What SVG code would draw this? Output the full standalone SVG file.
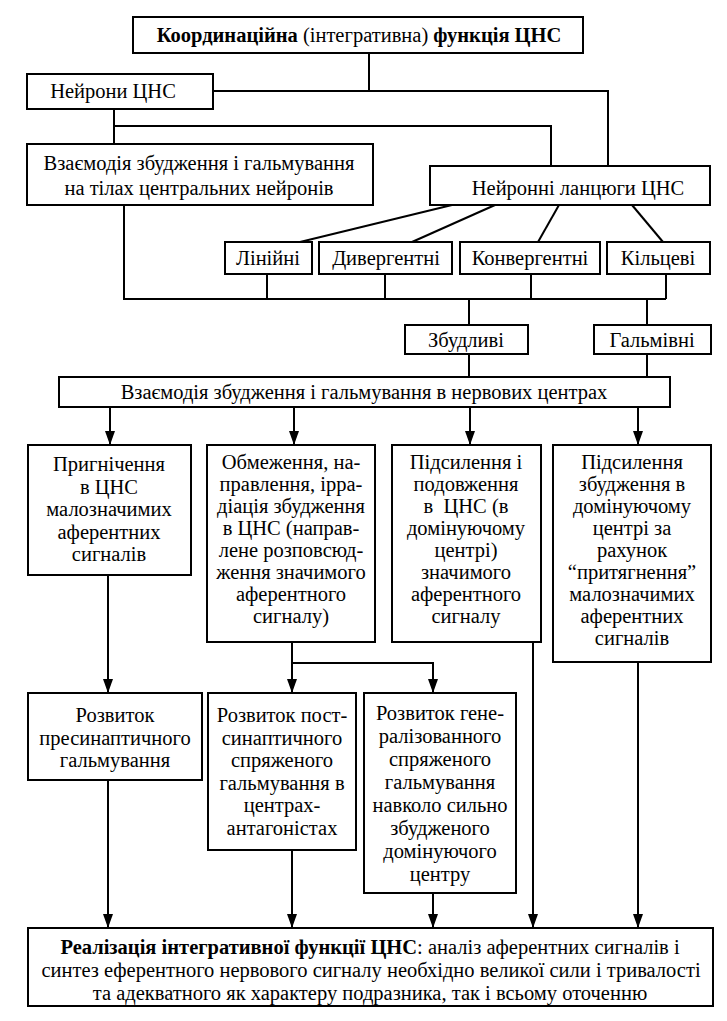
<svg xmlns="http://www.w3.org/2000/svg" width="727" height="1021" viewBox="0 0 727 1021">
<style>
.box{fill:#fff;stroke:#000;stroke-width:2}
.ln{fill:none;stroke:#000;stroke-width:2}
.ar{fill:none;stroke:#000;stroke-width:2;marker-end:url(#arr)}
text{font-family:"Liberation Serif","Times New Roman",serif;font-size:20.5px;fill:#000;text-anchor:middle}
.b{font-weight:bold}
</style>
<defs>
<marker id="arr" viewBox="0 0 14 10" refX="14" refY="5" markerWidth="14" markerHeight="10" markerUnits="userSpaceOnUse" orient="auto">
<path d="M0,0 L14,5 L0,10 z" fill="#000"/>
</marker>
</defs>
<rect width="727" height="1021" fill="#fff"/>

<g id="connectors">
<polyline class="ln" points="369,53 369,91"/>
<polyline class="ln" points="213,91 608,91 608,166"/>
<polyline class="ln" points="114,109 114,144"/>
<polyline class="ln" points="114,126 551,126 551,166"/>
<polyline class="ln" points="124,205 124,299 666,299"/>
<line class="ln" x1="452" y1="205" x2="300" y2="242"/>
<line class="ln" x1="495" y1="205" x2="412" y2="242"/>
<line class="ln" x1="559" y1="205" x2="538" y2="242"/>
<line class="ln" x1="632" y1="205" x2="663" y2="242"/>
<line class="ln" x1="267" y1="274" x2="267" y2="299"/>
<line class="ln" x1="385" y1="274" x2="385" y2="299"/>
<line class="ln" x1="531" y1="274" x2="531" y2="299"/>
<line class="ln" x1="666" y1="274" x2="666" y2="299"/>
<line class="ln" x1="469" y1="299" x2="469" y2="325"/>
<line class="ln" x1="647" y1="299" x2="647" y2="325"/>
<line class="ln" x1="469" y1="354" x2="469" y2="377"/>
<line class="ln" x1="647" y1="354" x2="647" y2="377"/>
<polyline class="ln" points="292,642 292,663 433,663"/>
<line class="ar" x1="110" y1="407" x2="110" y2="445"/>
<line class="ar" x1="294" y1="407" x2="294" y2="445"/>
<line class="ar" x1="470" y1="407" x2="470" y2="445"/>
<line class="ar" x1="638" y1="407" x2="638" y2="445"/>
<line class="ar" x1="108" y1="575" x2="108" y2="693"/>
<line class="ar" x1="292" y1="662" x2="292" y2="693"/>
<line class="ar" x1="433" y1="662" x2="433" y2="693"/>
<line class="ar" x1="108" y1="780" x2="108" y2="928"/>
<line class="ar" x1="292" y1="850" x2="292" y2="928"/>
<line class="ar" x1="433" y1="893" x2="433" y2="928"/>
<line class="ar" x1="533" y1="642" x2="533" y2="928"/>
<line class="ar" x1="638" y1="662" x2="638" y2="928"/>
</g>

<g id="title">
<rect class="box" x="133" y="17" width="450" height="36"/>
<text x="359" y="42"><tspan class="b">Координаційна</tspan> (інтегративна) <tspan class="b">функція ЦНС</tspan></text>
</g>

<g id="neurons">
<rect class="box" x="27" y="74" width="186" height="35"/>
<text x="113" y="98">Нейрони ЦНС</text>
</g>

<g id="interaction-bodies">
<rect class="box" x="27" y="144" width="346" height="61"/>
<text x="199" y="170">Взаємодія збудження і гальмування</text>
<text x="199" y="195">на тілах центральних нейронів</text>
</g>

<g id="chains">
<rect class="box" x="430" y="166" width="280" height="39"/>
<text x="578" y="195">Нейронні ланцюги ЦНС</text>
</g>

<g id="linear">
<rect class="box" x="225" y="242" width="87" height="32"/>
<text x="268" y="265">Лінійні</text>
</g>
<g id="divergent">
<rect class="box" x="319" y="242" width="133" height="32"/>
<text x="386" y="265">Дивергентні</text>
</g>
<g id="convergent">
<rect class="box" x="460" y="242" width="140" height="32"/>
<text x="530" y="265">Конвергентні</text>
</g>
<g id="circular">
<rect class="box" x="607" y="242" width="103" height="32"/>
<text x="658" y="265">Кільцеві</text>
</g>

<g id="excitatory">
<rect class="box" x="405" y="325" width="123" height="29"/>
<text x="466" y="347">Збудливі</text>
</g>
<g id="inhibitory">
<rect class="box" x="594" y="325" width="117" height="29"/>
<text x="652" y="347">Гальмівні</text>
</g>

<g id="interaction-centers">
<rect class="box" x="59" y="377" width="611" height="30"/>
<text x="364" y="399">Взаємодія збудження і гальмування в нервових центрах</text>
</g>

<g id="suppression">
<rect class="box" x="28" y="445" width="163" height="130"/>
<text x="109" y="471">Пригнічення</text>
<text x="109" y="493.5">в ЦНС</text>
<text x="109" y="516">малозначимих</text>
<text x="109" y="538.5">аферентних</text>
<text x="109" y="561">сигналів</text>
</g>

<g id="limitation">
<rect class="box" x="207" y="445" width="168" height="197"/>
<text x="291" y="469">Обмеження, на-</text>
<text x="291" y="491">правлення, ірра-</text>
<text x="291" y="513">діація збудження</text>
<text x="291" y="535">в ЦНС (направ-</text>
<text x="291" y="557">лене розповсюд-</text>
<text x="291" y="579">ження значимого</text>
<text x="291" y="601">аферентного</text>
<text x="291" y="623">сигналу)</text>
</g>

<g id="amplification">
<rect class="box" x="392" y="445" width="149" height="197"/>
<text x="466" y="469">Підсилення і</text>
<text x="466" y="491">подовження</text>
<text x="466" y="513">в&#160; ЦНС (в</text>
<text x="466" y="535">домінуючому</text>
<text x="466" y="557">центрі)</text>
<text x="466" y="579">значимого</text>
<text x="466" y="601">аферентного</text>
<text x="466" y="623">сигналу</text>
</g>

<g id="attraction">
<rect class="box" x="553" y="445" width="158" height="217"/>
<text x="632" y="469">Підсилення</text>
<text x="632" y="491">збудження в</text>
<text x="632" y="513">домінуючому</text>
<text x="632" y="535">центрі за</text>
<text x="632" y="557">рахунок</text>
<text x="632" y="579">“притягнення”</text>
<text x="632" y="601">малозначимих</text>
<text x="632" y="623">аферентних</text>
<text x="632" y="645">сигналів</text>
</g>

<g id="presynaptic">
<rect class="box" x="28" y="693" width="174" height="87"/>
<text x="115" y="722">Розвиток</text>
<text x="115" y="744.5">пресинаптичного</text>
<text x="115" y="767">гальмування</text>
</g>

<g id="postsynaptic">
<rect class="box" x="208" y="693" width="148" height="157"/>
<text x="282" y="722">Розвиток пост-</text>
<text x="282" y="744.5">синаптичного</text>
<text x="282" y="767">спряженого</text>
<text x="282" y="789.5">гальмування в</text>
<text x="282" y="812">центрах-</text>
<text x="282" y="834.5">антагоністах</text>
</g>

<g id="generalized">
<rect class="box" x="364" y="693" width="152" height="200"/>
<text x="440" y="720">Розвиток гене-</text>
<text x="440" y="743">ралізованного</text>
<text x="440" y="766">спряженого</text>
<text x="440" y="789">гальмування</text>
<text x="440" y="812">навколо сильно</text>
<text x="440" y="835">збудженого</text>
<text x="440" y="858">домінуючого</text>
<text x="440" y="881">центру</text>
</g>

<g id="realization">
<rect class="box" x="28" y="928" width="685" height="78"/>
<text x="370" y="954"><tspan class="b">Реалізація інтегративної функції ЦНС</tspan>: аналіз аферентних сигналів і</text>
<text x="371" y="977">синтез еферентного нервового сигналу необхідно великої сили і тривалості</text>
<text x="370" y="1000">та адекватного як характеру подразника, так і всьому оточенню</text>
</g>
</svg>
